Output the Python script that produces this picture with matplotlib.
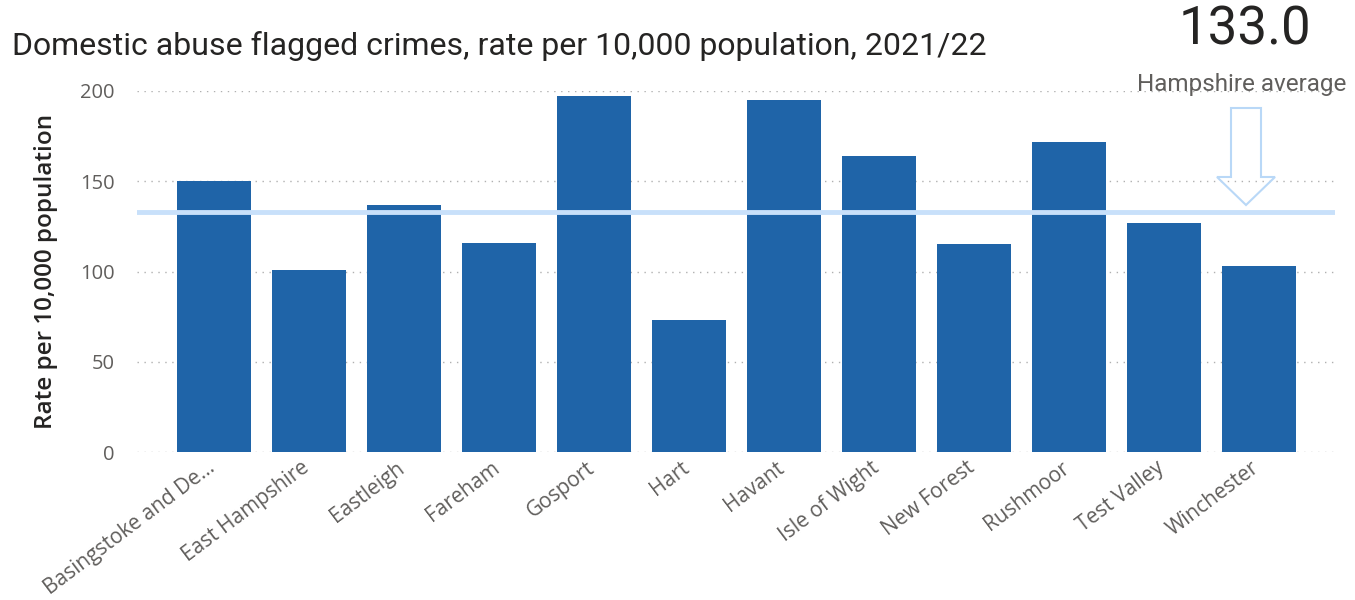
import matplotlib
matplotlib.use("Agg")
import matplotlib.pyplot as plt
from matplotlib.patches import Polygon
from matplotlib.transforms import ScaledTranslation

districts = ["Basingstoke and De...", "East Hampshire", "Eastleigh", "Fareham",
             "Gosport", "Hart", "Havant", "Isle of Wight", "New Forest",
             "Rushmoor", "Test Valley", "Winchester"]
rates = [150, 101, 137, 116, 197, 73, 195, 164, 115, 172, 127, 103]
hampshire_avg = 133.0
y_ticks = [0, 50, 100, 150, 200]

W, H = 1355, 600
fig = plt.figure(figsize=(W / 100, H / 100), dpi=100)
ax = fig.add_axes([137 / W, 1 - 452 / H, (1335 - 137) / W, (452 - 91) / H])

x = range(len(districts))
ax.bar(x, rates, width=0.78, color="#1F64A8", zorder=3)
ax.axhline(hampshire_avg, color="#C8E0FA", lw=3.5, zorder=4)

ax.set_xlim(-0.81, 11.8)
ax.set_ylim(0, 200)
ax.set_yticks(y_ticks)
ax.yaxis.grid(True, linestyle=(0, (1, 4)), color="#B0B0B0", lw=1)
ax.set_axisbelow(True)
for s in ax.spines.values():
    s.set_visible(False)
ax.tick_params(length=0)
ax.tick_params(axis="y", pad=16, labelsize=14.5, labelcolor="#605E5C")
for lbl in ax.get_yticklabels():
    lbl.set_family("Open Sans")
ax.set_xticks(list(x))
ax.set_xticklabels(districts, rotation=37, ha="right", rotation_mode="anchor",
                   fontsize=15, color="#605E5C", family="Open Sans")
ax.tick_params(axis="x", pad=4)
# nudge the slanted labels a little left of their ticks
shift = ScaledTranslation(-8 / 100, 0, fig.dpi_scale_trans)
for lbl in ax.get_xticklabels():
    lbl.set_transform(lbl.get_transform() + shift)
ax.set_ylabel("Rate per 10,000 population", fontsize=17.5, color="#252423",
              labelpad=16, family="Open Sans", fontweight="semibold")

fig.text(12 / W, 1 - 46 / H, "Domestic abuse flagged crimes, rate per 10,000 population, 2021/22",
         fontsize=23, color="#252423", va="center", ha="left", family="Roboto")
fig.text(1245 / W, 1 - 30 / H, f"{hampshire_avg:.1f}", fontsize=38, color="#252423",
         ha="center", va="center", family="Roboto")
fig.text(1242 / W, 1 - 85 / H, "Hampshire average", fontsize=17.5, color="#605E5C",
         ha="center", va="center", family="Roboto")

# hollow arrow pointing at the average line
pts = [(1231, 108), (1261, 108), (1261, 177), (1275, 177), (1246, 205),
       (1217, 177), (1231, 177)]
arrow = Polygon([(px / W, 1 - py / H) for px, py in pts], closed=True,
                fill=False, edgecolor="#B9D8F7", lw=1.5, transform=fig.transFigure)
fig.patches.append(arrow)

fig.savefig("out.png", dpi=100, facecolor="white")
